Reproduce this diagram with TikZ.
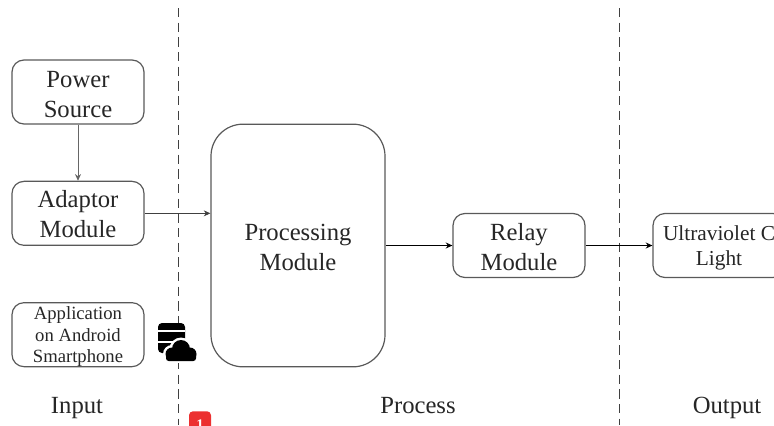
\documentclass[tikz,border=0pt]{standalone}
\usepackage{fontspec}
\setmainfont{Liberation Serif}
\usetikzlibrary{positioning, arrows.meta}

\definecolor{badgered}{RGB}{236,48,48}
\newcommand{\lift}[1][16pt]{\rule{0pt}{#1}}

\tikzset{
	module/.style={draw=black!65, line width=0.9pt, rounded corners=9pt, align=center, minimum width=99pt, minimum height=48pt, inner sep=0pt, text=black!85, font=\fontsize{18.5}{22.5}\selectfont},
	phase/.style={text=black!85, text height=13pt, text depth=4pt, font=\fontsize{18.5}{22.5}\selectfont},
	divider/.style={dashed, black!75, line width=0.7pt, dash pattern=on 7pt off 4pt},
	link/.style={-{Stealth[length=5pt,width=4.5pt]}, black, line width=0.6pt}
}

\begin{document}
\begin{tikzpicture}
[x=0.75pt,y=-0.75pt,on grid]

\useasboundingbox (0,0) rectangle (774,425);
\clip (0,0) rectangle (774,425);

\coordinate (d1t) at (178,8);
\coordinate (d1b) at (178,425);
\coordinate (d2t) at (619,8);
\coordinate (d2b) at (619,425);
\draw[divider] (d1t) -- (d1b);
\draw[divider] (d2t) -- (d2b);

\node[module] (power) at (78,92) {\lift Power\\Source};
\node[module, below=91pt of power] (adaptor) {\lift[14.5pt]Adaptor\\Module};
\node[module, below=91pt of adaptor, font=\fontsize{14}{16}\selectfont] (app) {\lift[12.5pt]Application\\on Android\\Smartphone};
\node[module, minimum width=130.5pt, minimum height=182pt, rounded corners=24pt] (proc) at (298,245.5) {\lift[15.5pt]Processing\\Module};
\node[module, right=165.75pt of proc] (relay) {\lift[15.5pt]Relay\\Module};
\node[module, right=150pt of relay, font=\fontsize{16}{18.75}\selectfont] (uv) {\lift[14pt]Ultraviolet C\\Light};

\node[phase] (input) at (77,407) {Input};
\node[phase] (process) at (418,407) {Process};
\node[phase] (output) at (727,407) {Output};

\draw[link, black!60] (power) -- (adaptor);
\draw[link, black!75] (adaptor.east) -- (adaptor.east -| proc.west);
\draw[link] (proc) -- (relay);
\draw[link] (relay) -- (uv);

% database and cloud
\fill[black, rounded corners=3pt] (158,323) rectangle (185,353);
\foreach \y in {331,342}
	\draw[white, line width=0.8pt] (158,\y) -- (185,\y);
\foreach \x/\y/\r in {172/354/6.5, 181/349/9, 190/354/6.5}
	\fill[white] (\x,\y) circle (\r+2.5);
\fill[white] (166,352) rectangle (194,363);
\fill[black, rounded corners=2pt] (166,352) rectangle (196,361);
\foreach \x/\y/\r in {172/354/6.5, 181/349/9, 190/354/6.5}
	\fill[black] (\x,\y) circle (\r);

% badge
\node[fill=badgered, rounded corners=3pt, minimum width=16.5pt, minimum height=20pt, inner sep=0pt, text=white, font=\bfseries\fontsize{11}{11}\selectfont, anchor=north] (badge) at (200,411) {1};
\end{tikzpicture}
\end{document}
